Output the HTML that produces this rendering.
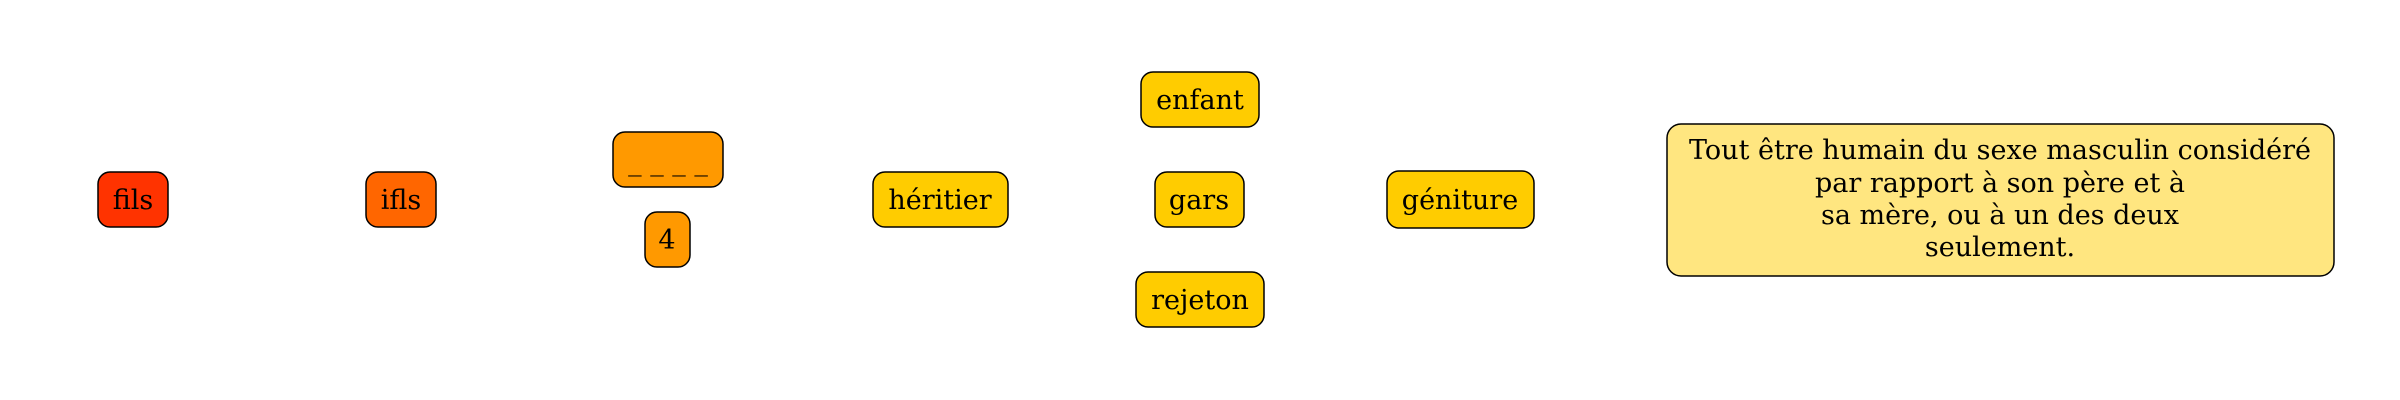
<!DOCTYPE html>
<html><head><meta charset="utf-8"><style>
html,body{margin:0;padding:0;background:#fff;width:2400px;height:400px;overflow:hidden}
text{font-family:"DejaVu Serif","Liberation Serif",serif;font-size:27px;fill:#000}
</style></head><body>
<svg width="2400" height="400" xmlns="http://www.w3.org/2000/svg">
<g stroke="#000" stroke-width="1.5">
<rect x="98" y="172" width="70" height="55" rx="12" fill="#ff3300"/>
<rect x="366" y="172" width="70" height="55" rx="12" fill="#ff6600"/>
<rect x="613" y="132" width="110" height="55" rx="12" fill="#ff9900"/>
<rect x="645" y="212" width="45" height="55" rx="12" fill="#ff9900"/>
<rect x="873" y="172" width="135" height="55" rx="12" fill="#ffcc00"/>
<rect x="1141" y="72" width="118" height="55" rx="12" fill="#ffcc00"/>
<rect x="1155" y="172" width="89" height="55" rx="12" fill="#ffcc00"/>
<rect x="1136" y="272" width="128" height="55" rx="12" fill="#ffcc00"/>
<rect x="1387" y="171" width="147" height="57" rx="12" fill="#ffcc00"/>
<rect x="1667" y="124" width="667" height="152" rx="14" fill="#ffe680"/>
</g>
<g text-anchor="middle">
<text x="133" y="209">fils</text>
<text x="401" y="209">ifls</text>
<text x="668" y="170">_ _ _ _</text>
<text x="667" y="249">4</text>
<text x="940" y="209">héritier</text>
<text x="1200" y="109">enfant</text>
<text x="1199" y="209">gars</text>
<text x="1200" y="309">rejeton</text>
<text x="1460" y="209">géniture</text>
<text x="2000" y="159">Tout être humain du sexe masculin considéré</text>
<text x="2000" y="192">par rapport à son père et à</text>
<text x="2000" y="224">sa mère, ou à un des deux</text>
<text x="2000" y="256">seulement.</text>
</g>
</svg>
</body></html>
